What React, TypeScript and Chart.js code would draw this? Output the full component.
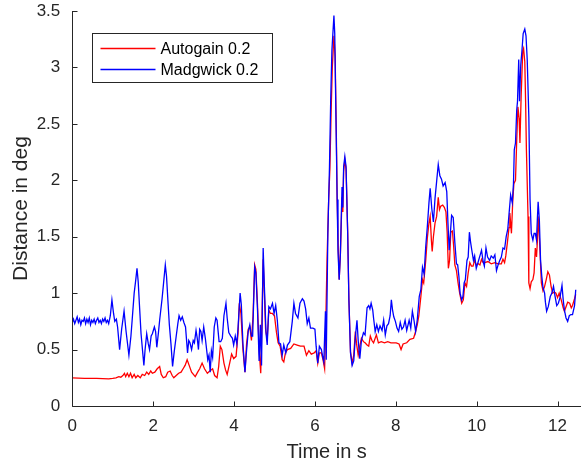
import React, { useEffect, useRef } from 'react';
import { Chart, registerables } from 'chart.js';

Chart.register(...registerables);

const xTicks = [0, 2, 4, 6, 8, 10, 12];
const yTicks = [0, 0.5, 1, 1.5, 2, 2.5, 3, 3.5];
const seriesNames = ['Autogain 0.2', 'Madgwick 0.2'];
const xTitle = 'Time in s';
const yTitle = 'Distance in deg';

// [time in s, distance in deg]
const autogain: [number, number][] = [
  [0, 0.25], [0.3, 0.245], [0.6, 0.245], [0.9, 0.24], [1.0, 0.245], [1.08, 0.25], [1.15, 0.26], [1.2, 0.255],
  [1.25, 0.27], [1.29, 0.29], [1.32, 0.26], [1.36, 0.29], [1.4, 0.26], [1.44, 0.29], [1.48, 0.25], [1.53, 0.28],
  [1.57, 0.25], [1.62, 0.27], [1.68, 0.25], [1.73, 0.28], [1.79, 0.27], [1.84, 0.3], [1.89, 0.28], [1.94, 0.31],
  [1.98, 0.29], [2.04, 0.3], [2.1, 0.33], [2.16, 0.35], [2.2, 0.28], [2.25, 0.25], [2.31, 0.26], [2.36, 0.3],
  [2.42, 0.31], [2.47, 0.27], [2.51, 0.25], [2.57, 0.27], [2.63, 0.29], [2.69, 0.3], [2.74, 0.33], [2.79, 0.36],
  [2.84, 0.41], [2.89, 0.36], [2.95, 0.3], [3.04, 0.26], [3.1, 0.3], [3.15, 0.33], [3.21, 0.38], [3.27, 0.33],
  [3.34, 0.29], [3.4, 0.31], [3.47, 0.33], [3.52, 0.27], [3.58, 0.25], [3.62, 0.35], [3.66, 0.53], [3.7, 0.5],
  [3.75, 0.38], [3.79, 0.32], [3.83, 0.28], [3.88, 0.36], [3.94, 0.46], [3.99, 0.42], [4.05, 0.44], [4.1, 0.65],
  [4.13, 0.91], [4.17, 0.82], [4.22, 0.5], [4.27, 0.3], [4.31, 0.55], [4.35, 0.68], [4.39, 0.7], [4.43, 0.58],
  [4.47, 0.8], [4.51, 1.25], [4.54, 1.21], [4.58, 0.9], [4.62, 0.5], [4.66, 0.29], [4.69, 0.75], [4.72, 1.3],
  [4.75, 1.0], [4.78, 0.68], [4.82, 0.59], [4.86, 0.85], [4.9, 0.82], [4.95, 0.82], [5.0, 0.8], [5.05, 0.65],
  [5.09, 0.56], [5.14, 0.53], [5.19, 0.41], [5.23, 0.39], [5.27, 0.47], [5.32, 0.5], [5.4, 0.51], [5.48, 0.55],
  [5.56, 0.54], [5.64, 0.53], [5.73, 0.53], [5.79, 0.45], [5.85, 0.49], [5.91, 0.46], [5.98, 0.47], [6.03, 0.49],
  [6.07, 0.38], [6.11, 0.47], [6.16, 0.47], [6.2, 0.41], [6.24, 0.33], [6.27, 0.77], [6.3, 1.3], [6.34, 1.83],
  [6.37, 2.1], [6.4, 2.6], [6.43, 3.0], [6.47, 3.28], [6.5, 3.1], [6.53, 2.4], [6.55, 1.83], [6.58, 1.35],
  [6.6, 1.12], [6.63, 1.35], [6.67, 1.85], [6.69, 1.72], [6.71, 2.08], [6.74, 2.18], [6.77, 2.1], [6.81, 1.55],
  [6.84, 0.95], [6.88, 0.48], [6.92, 0.38], [6.96, 0.45], [7.0, 0.66], [7.03, 0.55], [7.07, 0.45], [7.11, 0.53],
  [7.15, 0.6], [7.2, 0.57], [7.24, 0.56], [7.29, 0.54], [7.33, 0.53], [7.37, 0.62], [7.41, 0.58], [7.45, 0.56],
  [7.52, 0.63], [7.57, 0.56], [7.64, 0.57], [7.72, 0.56], [7.8, 0.57], [7.88, 0.56], [7.94, 0.56], [8.01, 0.56],
  [8.08, 0.55], [8.13, 0.5], [8.18, 0.55], [8.27, 0.56], [8.35, 0.59], [8.44, 0.6], [8.49, 0.66], [8.53, 0.72],
  [8.57, 0.8], [8.62, 0.97], [8.66, 1.12], [8.69, 1.09], [8.74, 1.29], [8.78, 1.49], [8.82, 1.62], [8.85, 1.68],
  [8.88, 1.47], [8.9, 1.37], [8.93, 1.5], [8.97, 1.62], [9.01, 1.68], [9.05, 1.85], [9.08, 1.74], [9.11, 1.77],
  [9.16, 1.78], [9.2, 1.76], [9.24, 1.72], [9.27, 1.54], [9.3, 1.22], [9.33, 1.29], [9.36, 1.54], [9.4, 1.55],
  [9.43, 1.42], [9.46, 1.25], [9.5, 1.2], [9.54, 1.09], [9.58, 1.0], [9.63, 0.91], [9.67, 0.94], [9.71, 1.09],
  [9.75, 1.06], [9.79, 1.18], [9.83, 1.27], [9.87, 1.24], [9.91, 1.24], [9.95, 1.29], [9.99, 1.25], [10.04, 1.26],
  [10.08, 1.25], [10.12, 1.3], [10.16, 1.27], [10.2, 1.27], [10.28, 1.28], [10.36, 1.26], [10.45, 1.27], [10.53, 1.26],
  [10.61, 1.26], [10.65, 1.3], [10.69, 1.27], [10.72, 1.33], [10.76, 1.45], [10.8, 1.58], [10.82, 1.71], [10.86, 1.53],
  [10.89, 1.8], [10.92, 1.97], [10.96, 2.0], [10.99, 2.35], [11.02, 2.65], [11.05, 2.55], [11.07, 2.33], [11.1, 2.75],
  [11.14, 3.15], [11.16, 3.17], [11.19, 3.05], [11.21, 2.7], [11.23, 2.27], [11.27, 1.68], [11.29, 1.09], [11.32, 1.04],
  [11.35, 1.1], [11.39, 1.12], [11.42, 1.18], [11.45, 1.4], [11.48, 1.32], [11.5, 1.45], [11.52, 1.68], [11.55, 1.5],
  [11.6, 1.09], [11.64, 1.02], [11.68, 1.06], [11.72, 1.12], [11.76, 1.19], [11.8, 1.16], [11.84, 1.06], [11.88, 1.0],
  [11.92, 1.01], [11.96, 1.0], [12.0, 0.96], [12.04, 1.0], [12.09, 0.94], [12.14, 0.87], [12.17, 0.84], [12.21, 0.88],
  [12.25, 0.92], [12.3, 0.91], [12.34, 0.87], [12.37, 0.89], [12.42, 0.95], [12.45, 0.99],
];

const madgwick: [number, number][] = [
  [0, 0.74], [0.03, 0.77], [0.06, 0.73], [0.09, 0.76], [0.12, 0.79], [0.15, 0.74], [0.18, 0.77], [0.21, 0.72],
  [0.24, 0.76], [0.27, 0.75], [0.3, 0.78], [0.33, 0.73], [0.36, 0.77], [0.39, 0.74], [0.42, 0.78], [0.45, 0.72],
  [0.48, 0.76], [0.51, 0.74], [0.54, 0.77], [0.57, 0.73], [0.6, 0.76], [0.63, 0.78], [0.66, 0.74], [0.69, 0.76],
  [0.72, 0.73], [0.75, 0.77], [0.78, 0.75], [0.81, 0.78], [0.84, 0.74], [0.87, 0.76], [0.9, 0.73],
  [0.94, 0.8], [0.98, 0.94], [1.02, 0.82], [1.05, 0.75], [1.09, 0.77], [1.12, 0.7], [1.17, 0.5], [1.22, 0.68],
  [1.28, 0.84], [1.33, 0.66], [1.4, 0.45], [1.45, 0.62], [1.48, 0.76], [1.53, 1.0], [1.57, 1.12], [1.6, 1.22],
  [1.63, 1.1], [1.66, 0.9], [1.7, 0.64], [1.77, 0.36], [1.8, 0.5], [1.84, 0.64], [1.88, 0.55], [1.91, 0.5],
  [1.95, 0.62], [1.98, 0.64], [2.03, 0.7], [2.06, 0.66], [2.09, 0.52], [2.13, 0.65], [2.16, 0.76], [2.22, 0.95],
  [2.26, 1.1], [2.3, 1.25], [2.33, 1.15], [2.37, 0.9], [2.4, 0.72], [2.44, 0.55], [2.48, 0.35], [2.52, 0.48],
  [2.57, 0.62], [2.61, 0.73], [2.64, 0.8], [2.68, 0.76], [2.72, 0.79], [2.76, 0.74], [2.8, 0.7], [2.85, 0.47],
  [2.88, 0.58], [2.91, 0.56], [2.95, 0.5], [2.99, 0.58], [3.02, 0.56], [3.06, 0.67], [3.09, 0.6], [3.12, 0.5],
  [3.15, 0.68], [3.18, 0.66], [3.21, 0.58], [3.25, 0.7], [3.29, 0.6], [3.35, 0.41], [3.38, 0.45], [3.41, 0.3],
  [3.44, 0.49], [3.47, 0.43], [3.51, 0.7], [3.55, 0.78], [3.58, 0.76], [3.63, 0.57], [3.67, 0.57], [3.71, 0.6],
  [3.75, 0.8], [3.8, 0.91], [3.83, 0.78], [3.87, 0.65], [3.92, 0.62], [3.96, 0.6], [3.99, 0.54], [4.03, 0.62],
  [4.07, 0.55], [4.1, 0.7], [4.15, 1.0], [4.18, 0.9], [4.22, 0.55], [4.27, 0.3], [4.3, 0.45], [4.35, 0.66],
  [4.39, 0.72], [4.43, 0.62], [4.46, 0.62], [4.51, 1.23], [4.54, 1.18], [4.58, 0.85], [4.62, 0.4], [4.65, 0.72],
  [4.68, 0.36], [4.72, 1.4], [4.75, 1.06], [4.79, 0.65], [4.82, 0.54], [4.86, 0.88], [4.9, 0.86], [4.95, 0.91],
  [4.99, 0.82], [5.03, 0.89], [5.07, 0.76], [5.11, 0.56], [5.15, 0.55], [5.19, 0.45], [5.23, 0.54], [5.28, 0.47],
  [5.32, 0.54], [5.38, 0.57], [5.44, 0.75], [5.48, 0.91], [5.52, 0.82], [5.58, 0.78], [5.63, 0.91], [5.69, 0.95],
  [5.73, 0.93], [5.77, 0.86], [5.81, 0.73], [5.85, 0.78], [5.89, 0.69], [5.95, 0.69], [6.0, 0.68], [6.03, 0.53],
  [6.07, 0.38], [6.11, 0.53], [6.16, 0.5], [6.19, 0.44], [6.22, 0.39], [6.26, 0.84], [6.28, 0.41], [6.32, 1.53],
  [6.34, 1.83], [6.36, 2.12], [6.39, 2.71], [6.42, 3.15], [6.47, 3.46], [6.49, 3.3], [6.52, 2.56], [6.55, 1.83],
  [6.57, 1.38], [6.6, 1.12], [6.63, 1.35], [6.67, 1.94], [6.69, 1.76], [6.71, 2.12], [6.74, 2.21], [6.77, 2.12],
  [6.81, 1.53], [6.84, 0.94], [6.88, 0.47], [6.92, 0.36], [6.96, 0.4], [7.0, 0.61], [7.04, 0.76], [7.07, 0.58],
  [7.11, 0.42], [7.15, 0.58], [7.2, 0.65], [7.24, 0.63], [7.29, 0.87], [7.33, 0.89], [7.36, 0.86], [7.39, 0.91],
  [7.43, 0.85], [7.45, 0.78], [7.49, 0.66], [7.53, 0.72], [7.57, 0.66], [7.61, 0.71], [7.66, 0.67], [7.7, 0.76],
  [7.74, 0.63], [7.78, 0.71], [7.82, 0.73], [7.86, 0.8], [7.89, 0.94], [7.92, 0.85], [7.95, 0.79], [7.99, 0.75],
  [8.03, 0.69], [8.07, 0.66], [8.11, 0.74], [8.15, 0.68], [8.19, 0.7], [8.23, 0.76], [8.27, 0.67], [8.33, 0.76],
  [8.37, 0.69], [8.41, 0.84], [8.45, 0.76], [8.49, 0.66], [8.53, 0.76], [8.58, 0.97], [8.62, 1.03], [8.66, 1.23],
  [8.7, 1.17], [8.74, 1.41], [8.78, 1.59], [8.82, 1.8], [8.85, 1.93], [8.89, 1.75], [8.93, 1.63], [8.97, 1.84],
  [9.01, 1.99], [9.05, 2.14], [9.09, 2.04], [9.13, 2.01], [9.17, 1.95], [9.22, 1.98], [9.26, 1.9], [9.29, 1.62],
  [9.32, 1.38], [9.35, 1.53], [9.38, 1.69], [9.42, 1.67], [9.46, 1.45], [9.5, 1.26], [9.53, 1.25], [9.56, 1.15],
  [9.59, 1.0], [9.63, 0.94], [9.66, 0.97], [9.69, 1.09], [9.72, 1.12], [9.76, 1.29], [9.79, 1.32], [9.82, 1.54],
  [9.85, 1.45], [9.88, 1.38], [9.92, 1.29], [9.95, 1.33], [9.99, 1.22], [10.04, 1.28], [10.08, 1.33], [10.12, 1.38],
  [10.16, 1.28], [10.19, 1.24], [10.23, 1.4], [10.27, 1.32], [10.32, 1.29], [10.36, 1.33], [10.41, 1.31], [10.45, 1.34],
  [10.49, 1.2], [10.53, 1.25], [10.57, 1.29], [10.61, 1.32], [10.65, 1.4], [10.69, 1.39], [10.73, 1.5], [10.77, 1.57],
  [10.8, 1.7], [10.84, 1.87], [10.88, 1.8], [10.91, 1.97], [10.93, 2.27], [10.96, 2.33], [10.99, 2.62], [11.01, 2.7],
  [11.04, 3.07], [11.06, 2.7], [11.09, 3.02], [11.12, 3.15], [11.15, 3.3], [11.19, 3.34], [11.22, 3.28], [11.25, 3.07],
  [11.29, 2.56], [11.32, 1.83], [11.35, 1.53], [11.39, 1.47], [11.42, 1.53], [11.45, 1.53], [11.48, 1.47], [11.5, 1.65],
  [11.52, 1.81], [11.55, 1.65], [11.58, 1.29], [11.61, 1.15], [11.64, 1.05], [11.68, 1.0], [11.7, 0.92], [11.73, 0.84],
  [11.77, 0.88], [11.82, 0.97], [11.86, 1.0], [11.9, 1.06], [11.94, 0.97], [11.98, 0.89], [12.02, 0.91], [12.06, 0.96],
  [12.11, 1.07], [12.14, 0.94], [12.17, 0.85], [12.21, 0.78], [12.25, 0.75], [12.29, 0.8], [12.33, 0.81], [12.37, 0.81],
  [12.42, 0.89], [12.45, 1.03],
];

const X_MAX = 12.58;
const Y_MAX = 3.5;
const AXIS = '#262626';
const FONT = "'Liberation Sans', Arial, Helvetica, sans-serif";
const RED = '#ff0000';
const BLUE = '#0000ff';

export default function App() {
  const ref = useRef<HTMLCanvasElement>(null);

  useEffect(() => {
    if (!ref.current) return;

    const matlabAxes = {
      id: 'matlabAxes',
      afterDatasetsDraw(chart: any) {
        const { ctx, chartArea: a, scales } = chart;
        const x = scales.x;
        const y = scales.y;
        ctx.save();
        ctx.strokeStyle = AXIS;
        ctx.lineWidth = 1;
        ctx.beginPath();
        const L = Math.round(a.left) + 0.5;
        const B = Math.round(a.bottom) + 0.5;
        ctx.moveTo(L, Math.round(a.top));
        ctx.lineTo(L, B);
        ctx.lineTo(a.right, B);
        xTicks.forEach((v) => {
          const p = Math.round(x.getPixelForValue(v)) + 0.5;
          ctx.moveTo(p, B);
          ctx.lineTo(p, B - 5);
        });
        yTicks.forEach((v) => {
          const p = Math.round(y.getPixelForValue(v)) + 0.5;
          ctx.moveTo(L, p);
          ctx.lineTo(L + 5, p);
        });
        ctx.stroke();

        // legend box
        const bx = Math.round(a.left + 20) + 0.5;
        const by = Math.round(a.top + 22) + 0.5;
        const bw = 180;
        const bh = 49;
        ctx.fillStyle = '#ffffff';
        ctx.fillRect(bx, by, bw, bh);
        ctx.strokeStyle = AXIS;
        ctx.lineWidth = 1;
        ctx.strokeRect(bx, by, bw, bh);
        const colors = [RED, BLUE];
        const rows = [by + 15, by + 36];
        ctx.font = `16px ${FONT}`;
        ctx.textBaseline = 'middle';
        ctx.textAlign = 'left';
        seriesNames.forEach((name, i) => {
          ctx.strokeStyle = colors[i];
          ctx.lineWidth = 1.3;
          ctx.beginPath();
          ctx.moveTo(bx + 8, rows[i]);
          ctx.lineTo(bx + 63, rows[i]);
          ctx.stroke();
          ctx.fillStyle = '#000000';
          ctx.fillText(name, bx + 68, rows[i] + 1);
        });
        ctx.restore();
      },
    };

    const chart = new Chart(ref.current, {
      type: 'line',
      data: {
        datasets: [
          {
            label: seriesNames[0],
            data: autogain.map(([t, v]) => ({ x: t, y: v })),
            borderColor: RED,
            backgroundColor: RED,
            borderWidth: 1.3,
            pointRadius: 0,
            tension: 0,
            order: 2,
          },
          {
            label: seriesNames[1],
            data: madgwick.map(([t, v]) => ({ x: t, y: v })),
            borderColor: BLUE,
            backgroundColor: BLUE,
            borderWidth: 1.3,
            pointRadius: 0,
            tension: 0,
            order: 1,
          },
        ],
      },
      options: {
        animation: false,
        responsive: false,
        devicePixelRatio: 1,
        events: [],
        layout: { padding: { top: 11, right: 0, bottom: 0, left: 0 } },
        plugins: {
          legend: { display: false },
          tooltip: { enabled: false },
        },
        scales: {
          x: {
            type: 'linear',
            min: 0,
            max: X_MAX,
            grid: { display: false, drawTicks: false },
            border: { display: false },
            afterBuildTicks: (s: any) => {
              s.ticks = xTicks.map((v) => ({ value: v }));
            },
            afterFit: (s: any) => {
              s.height = 60;
              s.paddingLeft = 0;
              s.paddingRight = 0;
            },
            ticks: {
              color: AXIS,
              font: { family: FONT, size: 17 },
              padding: 10,
              maxRotation: 0,
              autoSkip: false,
              callback: (v: any) => String(v),
            },
            title: {
              display: true,
              text: xTitle,
              color: AXIS,
              font: { family: FONT, size: 20 },
              padding: { top: 0, bottom: 2 },
            },
          },
          y: {
            type: 'linear',
            min: 0,
            max: Y_MAX,
            grid: { display: false, drawTicks: false },
            border: { display: false },
            afterBuildTicks: (s: any) => {
              s.ticks = yTicks.map((v) => ({ value: v }));
            },
            afterFit: (s: any) => {
              s.width = 72.3;
              s.paddingTop = 0;
              s.paddingBottom = 0;
            },
            ticks: {
              color: AXIS,
              font: { family: FONT, size: 17 },
              padding: 12,
              autoSkip: false,
              callback: (v: any) => String(v),
            },
            title: {
              display: true,
              text: yTitle,
              color: AXIS,
              font: { family: FONT, size: 21 },
              padding: { top: 9, bottom: 0 },
            },
          },
        },
      },
      plugins: [matlabAxes],
    });

    return () => chart.destroy();
  }, []);

  return (
    <div style={{ position: 'fixed', left: 0, top: 0, width: 581, height: 466, background: '#ffffff' }}>
      <canvas ref={ref} width={581} height={466} style={{ display: 'block', width: 581, height: 466 }} />
    </div>
  );
}
